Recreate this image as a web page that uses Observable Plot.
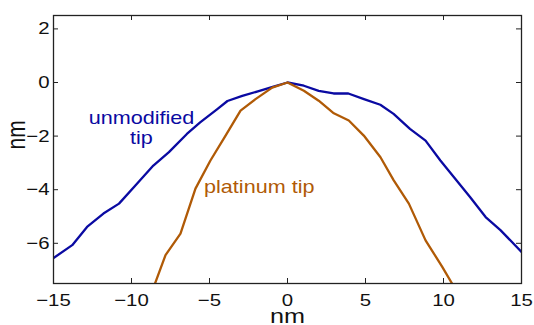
<!DOCTYPE html>
<html>
<head>
<meta charset="utf-8">
<script src="https://cdn.jsdelivr.net/npm/d3@7"></script>
<script src="https://cdn.jsdelivr.net/npm/@observablehq/plot@0.6"></script>
<style>
  html, body { margin: 0; padding: 0; background: #ffffff; }
  #chart svg { display: block; }
</style>
</head>
<body>
<div id="chart"></div>
<script>
// Unmodified tip profile (nm)
const unmodifiedX = [-15, -13.8, -12.85, -11.8, -10.8, -9.65, -8.6, -7.6, -6.45, -5.6, -4.5, -3.85, -2.9, -1.9, -0.95, 0, 1.05, 2.0, 2.95, 3.9, 4.9, 5.95, 6.8, 7.85, 8.85, 9.8, 10.75, 11.7, 12.7, 13.65, 15];
const unmodifiedY = [-6.55, -6.07, -5.39, -4.89, -4.52, -3.78, -3.1, -2.6, -1.92, -1.49, -0.99, -0.69, -0.5, -0.33, -0.16, 0, -0.12, -0.31, -0.41, -0.41, -0.62, -0.83, -1.17, -1.73, -2.17, -2.91, -3.59, -4.27, -5.02, -5.51, -6.32];

// Platinum tip profile (nm)
const platinumX = [-9, -7.82, -6.86, -5.9, -4.94, -3.97, -3.01, -2.05, -0.98, 0, 1.05, 2.0, 2.97, 3.93, 4.89, 5.96, 6.81, 7.78, 8.85, 9.92, 11];
const platinumY = [-8.3, -6.44, -5.64, -3.96, -2.91, -1.98, -1.05, -0.62, -0.19, 0, -0.31, -0.68, -1.15, -1.42, -1.98, -2.79, -3.65, -4.52, -5.89, -6.88, -7.95];

// Axis ticks
const xTicks = [-15, -10, -5, 0, 5, 10, 15];
const yTicks = [2, 0, -2, -4, -6];

// Annotation labels
const annotationText = ["unmodified", "tip", "platinum tip"];
const annotationX = [-9.36, -9.36, -5.35];
const annotationY = [-1.33, -2.07, -3.92];
const annotationSeries = ["unmodified", "unmodified", "platinum"];

const colors = { unmodified: "#0a0aa2", platinum: "#b05a06" };
const axisColor = "#222222";
const textColor = "#111111";
const textStretch = 1.2;

const unmodified = unmodifiedX.map((x, i) => ({ x, y: unmodifiedY[i] }));
const platinum = platinumX.map((x, i) => ({ x, y: platinumY[i] }));
const annotations = annotationText.map((t, i) => ({ t, x: annotationX[i], y: annotationY[i], s: annotationSeries[i] }));

const fmt = d3.format("d");

const chart = Plot.plot({
  width: 534,
  height: 325,
  marginLeft: 53,
  marginRight: 13,
  marginTop: 15,
  marginBottom: 42,
  style: { fontFamily: "'Liberation Sans', Arial, sans-serif", fontSize: "17px", color: axisColor, background: "#ffffff" },
  x: { domain: [-15, 15], ticks: xTicks, tickFormat: fmt, label: null },
  y: { domain: [-7.5, 2.5], ticks: yTicks, tickFormat: fmt, label: null },
  marks: [
    Plot.line(unmodified, { x: "x", y: "y", stroke: colors.unmodified, strokeWidth: 2.3, clip: true }),
    Plot.line(platinum, { x: "x", y: "y", stroke: colors.platinum, strokeWidth: 2.3, clip: true }),
    Plot.frame({ stroke: axisColor, strokeWidth: 1.3 }),
    Plot.ruleX(xTicks, { x: d => d, insetBottom: 263, stroke: axisColor }),
    Plot.ruleX(xTicks, { x: d => d, insetTop: 263, stroke: axisColor }),
    Plot.ruleY(yTicks, { y: d => d, insetRight: 463, stroke: axisColor }),
    Plot.ruleY(yTicks, { y: d => d, insetLeft: 463, stroke: axisColor }),
    Plot.axisX({ ticks: xTicks, tickFormat: fmt, tickSize: 0, tickPadding: 10, fontSize: 17, label: null, fill: textColor }),
    Plot.axisY({ ticks: yTicks, tickFormat: fmt, tickSize: 0, tickPadding: 4, fontSize: 17, label: null, fill: textColor }),
    Plot.text(["nm"], { text: d => d, frameAnchor: "bottom", dy: 25, lineAnchor: "top", fontSize: 21, fill: textColor }),
    Plot.text(["nm"], { text: d => d, frameAnchor: "left", dx: -36.4, rotate: -90, fontSize: 21, fill: textColor }),
    Plot.text(annotations.filter(d => d.s === "unmodified"), { x: "x", y: "y", text: "t", fill: colors.unmodified, fontSize: 18, textAnchor: "middle" }),
    Plot.text(annotations.filter(d => d.s === "platinum"), { x: "x", y: "y", text: "t", fill: colors.platinum, fontSize: 18, textAnchor: "start" })
  ]
});

// The reference's lettering is slightly wide: stretch every text horizontally about its anchor.
d3.select(chart).selectAll("text").each(function () {
  const t = this.getAttribute("transform") || "";
  const rotated = /rotate/.test(t);
  this.setAttribute("transform", `${t} ${rotated ? `scale(1,${textStretch})` : `scale(${textStretch},1)`}`.trim());
});

document.getElementById("chart").appendChild(chart);
</script>
</body>
</html>
